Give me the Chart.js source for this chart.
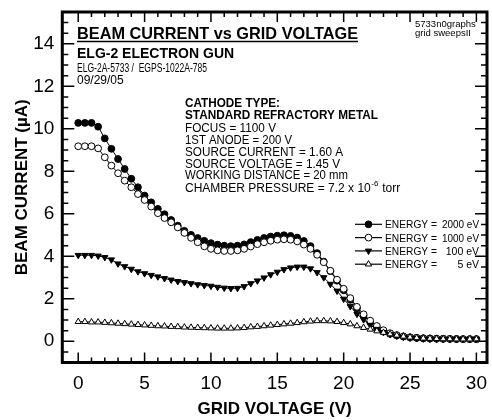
<!DOCTYPE html>
<html><head><meta charset="utf-8">
<script src="https://cdn.jsdelivr.net/npm/chart.js@4/dist/chart.umd.min.js"></script>
<style>html,body{margin:0;padding:0;background:#fff}#wrap{width:492px;height:420px}</style>
</head><body><div id="wrap"><canvas id="c" width="492" height="420"></canvas></div>
<script>
const gridVoltage = [0,0.5,1,1.5,2,2.5,3,3.5,4,4.5,5,5.5,6,6.5,7,7.5,8,8.5,9,9.5,10,10.5,11,11.5,12,12.5,13,13.5,14,14.5,15,15.5,16,16.5,17,17.5,18,18.5,19,19.5,20,20.5,21,21.5,22,22.5,23,23.5,24,24.5,25,25.5,26,26.5,27,27.5,28,28.5,29,29.5,30];
const energy2000 = [10.28,10.28,10.28,10.1,9.55,9.06,8.58,8.11,7.65,7.25,6.86,6.54,6.23,5.98,5.71,5.44,5.2,5.01,4.86,4.73,4.62,4.55,4.5,4.48,4.5,4.56,4.67,4.77,4.86,4.93,4.97,4.99,4.96,4.88,4.72,4.48,4.15,3.75,3.3,2.85,2.4,1.95,1.55,1.2,0.9,0.65,0.47,0.35,0.27,0.22,0.18,0.16,0.14,0.13,0.12,0.12,0.11,0.11,0.1,0.1,0.1];
const energy1000 = [9.18,9.18,9.18,9.08,8.66,8.27,7.91,7.56,7.25,6.93,6.65,6.34,6.03,5.8,5.6,5.36,5.1,4.87,4.66,4.47,4.35,4.28,4.25,4.25,4.28,4.35,4.46,4.57,4.66,4.73,4.78,4.8,4.78,4.7,4.55,4.35,4.07,3.72,3.32,2.9,2.47,2.03,1.62,1.27,0.97,0.72,0.52,0.38,0.29,0.23,0.19,0.16,0.14,0.13,0.12,0.11,0.11,0.1,0.1,0.1,0.1];
const energy100 = [4.05,4.05,4.05,4.02,3.95,3.84,3.65,3.52,3.4,3.28,3.19,3.11,3.04,2.96,2.89,2.82,2.77,2.72,2.67,2.63,2.6,2.55,2.51,2.49,2.5,2.58,2.72,2.85,2.99,3.14,3.26,3.38,3.46,3.5,3.5,3.42,3.24,3.0,2.69,2.37,1.99,1.64,1.28,1.02,0.76,0.57,0.42,0.32,0.25,0.2,0.16,0.14,0.12,0.11,0.1,0.1,0.1,0.09,0.09,0.09,0.09];
const energy5 = [0.92,0.92,0.9,0.9,0.88,0.86,0.84,0.82,0.8,0.78,0.76,0.74,0.72,0.71,0.69,0.68,0.66,0.65,0.64,0.63,0.62,0.61,0.61,0.61,0.62,0.64,0.67,0.69,0.72,0.75,0.78,0.81,0.84,0.87,0.91,0.94,0.96,0.96,0.95,0.92,0.87,0.81,0.72,0.64,0.56,0.48,0.41,0.34,0.28,0.23,0.19,0.16,0.14,0.13,0.12,0.11,0.11,0.1,0.1,0.1,0.1];
const seriesEnergies = ['2000','1000','100','5'];
const xTickValues = [0,5,10,15,20,25,30];
const yTickValues = [0,2,4,6,8,10,12,14];
const xMinorTicks = [0,1,2,3,4,5,6,7,8,9,10,11,12,13,14,15,16,17,18,19,20,21,22,23,24,25,26,27,28,29,30];
const yMinorTicks = [-0.5,0,0.5,1,1.5,2,2.5,3,3.5,4,4.5,5,5.5,6,6.5,7,7.5,8,8.5,9,9.5,10,10.5,11,11.5,12,12.5,13,13.5,14,14.5,15];

const FONT = "'Liberation Sans', Arial, sans-serif";
Chart.defaults.font.family = FONT;
Chart.defaults.color = '#000';

const styles = [
  {pointStyle:'circle', fill:'#000', rotation:0, radius:3.4},
  {pointStyle:'circle', fill:'#fff', rotation:0, radius:3.4},
  {pointStyle:'triangle', fill:'#000', rotation:180, radius:3.6},
  {pointStyle:'triangle', fill:'#fff', rotation:0, radius:3.6}
];
const seriesData = [energy2000, energy1000, energy100, energy5];

const datasets = seriesData.map((arr, k) => ({
  label: 'ENERGY = ' + seriesEnergies[k] + ' eV',
  data: gridVoltage.map((v, i) => ({x: v, y: arr[i]})),
  borderColor: '#000',
  borderWidth: 1,
  pointStyle: styles[k].pointStyle,
  pointRotation: styles[k].rotation,
  pointRadius: styles[k].radius,
  pointBackgroundColor: styles[k].fill,
  pointBorderColor: '#000',
  pointBorderWidth: 1,
  tension: 0,
  order: 4 - k
}));

function drawMarker(ctx, st, x, y) {
  ctx.save();
  ctx.fillStyle = st.fill; ctx.strokeStyle = '#000'; ctx.lineWidth = 1;
  if (Chart.helpers && Chart.helpers.drawPoint) {
    Chart.helpers.drawPoint(ctx, {pointStyle: st.pointStyle, radius: st.radius, rotation: st.rotation, borderWidth: 1}, x, y);
  } else {
    ctx.beginPath(); ctx.arc(x, y, st.radius, 0, Math.PI*2); ctx.fill(); ctx.stroke();
  }
  ctx.restore();
}

function noPad(s) { s.paddingTop = 0; s.paddingBottom = 0; s.paddingLeft = 0; s.paddingRight = 0; }

const decor = {
  id: 'decor',
  afterDraw(chart) {
    const ctx = chart.ctx, a = chart.chartArea;
    const xs = chart.scales.x, ys = chart.scales.y;
    ctx.save();
    ctx.strokeStyle = '#000';
    ctx.lineWidth = 1.5;
    ctx.beginPath();
    xMinorTicks.forEach(v => {
      const px = xs.getPixelForValue(v);
      const L = (v % 5 === 0) ? 10 : 5;
      ctx.moveTo(px, a.bottom); ctx.lineTo(px, a.bottom - L);
      ctx.moveTo(px, a.top); ctx.lineTo(px, a.top + L);
    });
    yMinorTicks.forEach(v => {
      const py = ys.getPixelForValue(v);
      const L = (v % 2 === 0) ? 12 : 6;
      ctx.moveTo(a.left, py); ctx.lineTo(a.left + L, py);
      ctx.moveTo(a.right, py); ctx.lineTo(a.right - L, py);
    });
    ctx.stroke();
    ctx.lineWidth = 3;
    ctx.strokeRect(a.left, a.top, a.right - a.left, a.bottom - a.top);

    ctx.fillStyle = '#000';
    ctx.textBaseline = 'alphabetic';
    ctx.textAlign = 'left';
    function t(s, x, y, font, mw) { ctx.font = font; if (mw) ctx.fillText(s, x, y, mw); else ctx.fillText(s, x, y); return Math.min(ctx.measureText(s).width, mw || 1e9); }
    const w = t('BEAM CURRENT vs GRID VOLTAGE', 77, 38.5, 'bold 16.5px ' + FONT, 281);
    ctx.lineWidth = 1.5;
    ctx.beginPath(); ctx.moveTo(77, 41.5); ctx.lineTo(77 + w, 41.5); ctx.stroke();
    t('ELG-2 ELECTRON GUN', 77, 57.5, 'bold 14px ' + FONT, 166);
    t('ELG-2A-5733 /  EGPS-1022A-785', 77, 72, '12.5px ' + FONT, 130);
    t('09/29/05', 77, 84, '12px ' + FONT, 47);
    t('5733n0graphs', 415, 27, '9.5px ' + FONT, 63);
    t('grid sweepsII', 415, 36, '9.5px ' + FONT, 58);

    const ax = 185;
    t('CATHODE TYPE:', ax, 106.7, 'bold 12px ' + FONT, 95);
    t('STANDARD REFRACTORY METAL', ax, 119.3, 'bold 12px ' + FONT, 193);
    t('FOCUS = 1100 V', ax, 132, '12px ' + FONT, 91);
    t('1ST ANODE = 200 V', ax, 144, '12px ' + FONT, 107);
    t('SOURCE CURRENT = 1.60 A', ax, 156, '12px ' + FONT, 158);
    t('SOURCE VOLTAGE = 1.45 V', ax, 167.7, '12px ' + FONT, 155);
    t('WORKING DISTANCE = 20 mm', ax, 179.3, '12px ' + FONT, 163);
    const w1 = t('CHAMBER PRESSURE = 7.2 x 10', ax, 191.7, '12px ' + FONT, 187);
    const w2 = t('-6', ax + w1 + 0.5, 186, '8px ' + FONT);
    t(' torr', ax + w1 + w2 + 1, 191.7, '12px ' + FONT);

    const rows = [224.3, 237.6, 250.9, 264.2];
    rows.forEach((ry, k) => {
      ctx.strokeStyle = '#000'; ctx.lineWidth = 1.2;
      ctx.beginPath(); ctx.moveTo(355, ry); ctx.lineTo(382, ry); ctx.stroke();
      drawMarker(ctx, styles[k], 368.5, ry);
      ctx.fillStyle = '#000';
      ctx.textAlign = 'left';
      t('ENERGY =', 385, ry + 4, '10.5px ' + FONT, 52);
      ctx.textAlign = 'right';
      t(seriesEnergies[k] + ' eV', 479, ry + 4, '10.5px ' + FONT, 37);
    });
    ctx.restore();
  }
};

new Chart(document.getElementById('c'), {
  type: 'line',
  data: { datasets },
  options: {
    responsive: false,
    animation: false,
    events: [],
    layout: { padding: { left: 0, right: 3.7, top: 12, bottom: 0 } },
    plugins: { legend: { display: false }, tooltip: { enabled: false } },
    scales: {
      x: {
        type: 'linear', min: -1.2, max: 30.8,
        grid: { display: false, drawTicks: false },
        border: { display: false },
        afterBuildTicks: s => { s.ticks = xTickValues.map(v => ({value: v})); },
        afterFit: s => { s.height = 57.5; noPad(s); },
        ticks: { font: { size: 19 }, color: '#000', padding: 10, maxRotation: 0, autoSkip: false },
        title: { display: true, text: 'GRID VOLTAGE (V)', font: { size: 17, weight: 'bold' }, color: '#000', padding: 0 }
      },
      y: {
        type: 'linear', min: -1, max: 15.5,
        grid: { display: false, drawTicks: false },
        border: { display: false },
        afterBuildTicks: s => { s.ticks = yTickValues.map(v => ({value: v})); },
        afterFit: s => { s.width = 62.3; noPad(s); },
        ticks: { font: { size: 19 }, color: '#000', padding: 8, autoSkip: false },
        title: { display: true, text: 'BEAM CURRENT (µA)', font: { size: 17, weight: 'bold' }, color: '#000', padding: { top: 12, bottom: 0 } }
      }
    }
  },
  plugins: [decor]
});
</script>
</body></html>
